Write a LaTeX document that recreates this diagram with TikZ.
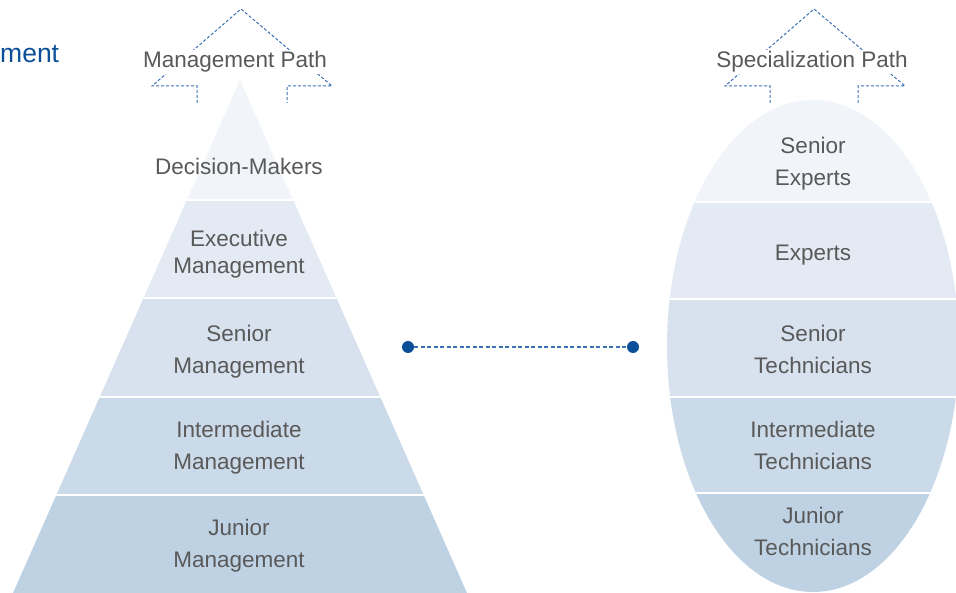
\documentclass[tikz,border=0pt]{standalone}
\usepackage{fontspec}
\setmainfont{Liberation Sans}
\usepackage{xcolor}
\usepackage{tikz}
\definecolor{textgray}{HTML}{595959}
\definecolor{navy}{HTML}{0B4F99}
\definecolor{dashblue}{HTML}{3A70B4}
\definecolor{bandA}{HTML}{F1F5FA}
\definecolor{bandB}{HTML}{E3EAF3}
\definecolor{bandC}{HTML}{D7E2EE}
\definecolor{bandD}{HTML}{CBDAE8}
\definecolor{bandE}{HTML}{BFD2E4}
\tikzset{lbl/.style={text=textgray,align=center,font=\fontsize{22.5}{32}\selectfont},
pathlbl/.style={lbl,fill=white,inner sep=2pt},
outline/.style={dashblue,line width=1pt,dash pattern=on 3pt off 2pt},
gap/.style={white,line width=2.5pt},
dot/.style={circle,fill=navy,minimum size=12pt,inner sep=0pt},
link/.style={dashblue,line width=1.3pt,dash pattern=on 4pt off 2.5pt}}

\begin{document}
\begin{tikzpicture}[x=1pt,y=-1pt]
\useasboundingbox (0,0) rectangle (956,593);
\node[anchor=west,inner sep=0pt,text=navy,font=\fontsize{26.5}{30}\selectfont] (title) at (0,54) {ment};
\begin{scope}
\clip (240,80) -- (13,593) -- (467,593) -- cycle;
\foreach \ya/\yb/\col in {80/200/bandA,200/298/bandB,298/397/bandC,397/495/bandD,495/593/bandE}
\fill[\col] (0,\ya) rectangle (480,\yb);
\foreach \y in {200,298,397,495}
\draw[gap] (0,\y) -- (480,\y);
\end{scope}
\begin{scope}
\clip (813,346) ellipse [x radius=146pt,y radius=246pt];
\foreach \ya/\yb/\col in {90/202/bandA,202/299/bandB,299/397/bandC,397/493/bandD,493/600/bandE}
\fill[\col] (650,\ya) rectangle (970,\yb);
\foreach \y in {202,299,397,493}
\draw[gap] (650,\y) -- (970,\y);
\end{scope}
\draw[outline] (197,103) -- (197,86) -- (152,86) -- (241,9) -- (332,86) -- (287,86) -- (287,103);
\draw[outline] (770,103) -- (770,86) -- (725,86) -- (814,9) -- (905,86) -- (858,86) -- (858,103);
\node[pathlbl] (mpath) at (235,62) {Management Path};
\node[pathlbl] (spath) at (812,62) {Specialization Path};
\node[lbl] (dm) at (239,166) {Decision-Makers};
\node[lbl,font=\fontsize{22.5}{27}\selectfont] (em) at (239,254) {Executive\\Management};
\node[lbl] (sm) at (239,352) {Senior\\Management};
\node[lbl] (im) at (239,448) {Intermediate\\Management};
\node[lbl] (jm) at (239,546) {Junior\\Management};
\node[lbl] (se) at (813,164) {Senior\\Experts};
\node[lbl] (ex) at (813,255) {Experts};
\node[lbl] (st) at (813,349) {Senior\\Technicians};
\node[lbl] (it) at (813,445) {Intermediate\\Technicians};
\node[lbl] (jt) at (813,531) {Junior\\Technicians};
\node[dot] (mdot) at (408,347) {};
\node[dot] (sdot) at (633,347) {};
\draw[link] (mdot) -- (sdot);
\end{tikzpicture}
\end{document}
